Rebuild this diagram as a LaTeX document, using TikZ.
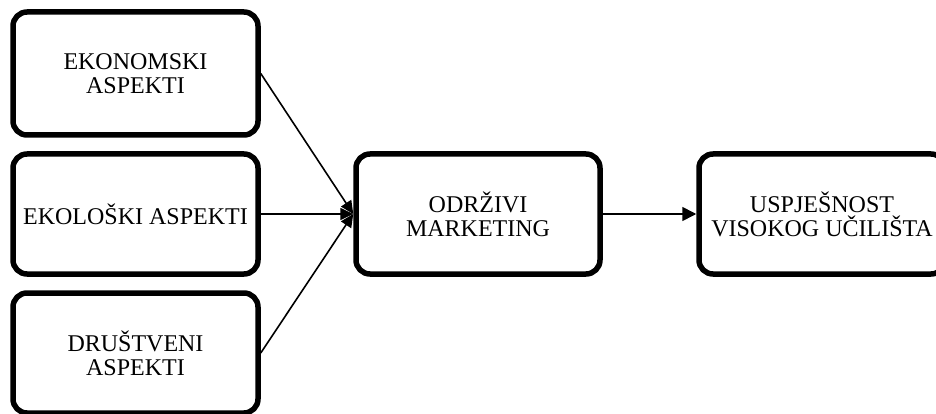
\documentclass[tikz,border=0pt]{standalone}
\usepackage{fontspec}
\setmainfont{Liberation Serif}
\usetikzlibrary{arrows.meta}
\begin{document}
\begin{tikzpicture}[x=1pt,y=-1pt,
  box/.style={draw, line width=5.5pt, rounded corners=14pt, minimum width=245pt,
    minimum height=120pt, align=center, inner sep=0pt,
    font=\fontsize{24}{24}\selectfont},
  conn/.style={line width=1.6pt, -{Triangle[length=13pt,width=12pt]}}]
\useasboundingbox (0,0) rectangle (936,414);
\node[box, minimum height=123pt] (eko) at (135.5,73.5) {EKONOMSKI\\ASPEKTI};
\node[box] (ekol) at (135.5,214) {EKOLOŠKI ASPEKTI};
\node[box] (drus) at (135.5,353) {DRUŠTVENI\\ASPEKTI};
\node[box, minimum width=244pt] (odr) at (478,214) {ODRŽIVI\\MARKETING};
\node[box, minimum width=246pt] (usp) at (822,214) {USPJEŠNOST\\VISOKOG UČILIŠTA};
\draw[conn] (eko.east) -- (odr.west);
\draw[conn] (ekol.east) -- (odr.west);
\draw[conn] (drus.east) -- (odr.west);
\draw[conn, -{Triangle[length=14pt,width=14pt]}] (odr.east) -- (usp.west);
\end{tikzpicture}
\end{document}
